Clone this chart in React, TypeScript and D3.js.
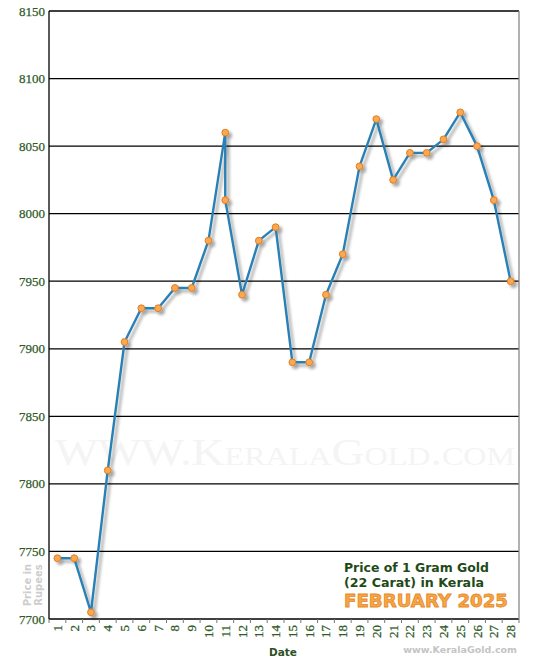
import * as d3 from 'd3';

// Day 11 carries two rates (morning and afternoon)
const days = [1, 2, 3, 4, 5, 6, 7, 8, 9, 10, 11, 11, 12, 13, 14, 15, 16, 17, 18, 19, 20, 21, 22, 23, 24, 25, 26, 27, 28];
const prices = [7745, 7745, 7705, 7810, 7905, 7930, 7930, 7945, 7945, 7980, 8060, 8010, 7940, 7980, 7990, 7890, 7890, 7940, 7970, 8035, 8070, 8025, 8045, 8045, 8055, 8075, 8050, 8010, 7950];
const dayLabels = d3.range(1, 29).map(String);
const yTicks = [7700, 7750, 7800, 7850, 7900, 7950, 8000, 8050, 8100, 8150];

const W = 550;
const H = 660;
const margin = { top: 11, right: 31, bottom: 41, left: 49 };

export default function App() {
  const x = d3.scaleBand<string>()
    .domain(dayLabels)
    .range([margin.left, W - margin.right])
    .padding(0);
  const y = d3.scaleLinear()
    .domain([7700, 8150])
    .range([H - margin.bottom, margin.top]);

  const points = days.map((d, i) => ({
    cx: (x(String(d)) || 0) + x.bandwidth() / 2,
    cy: y(prices[i]),
  }));

  const line = d3.line<{ cx: number; cy: number }>()
    .x(d => d.cx)
    .y(d => d.cy);

  const green = '#2f5a28';
  const x0 = margin.left;
  const x1 = W - margin.right;
  const yBottom = H - margin.bottom;

  return (
    <svg width={W} height={H} style={{ position: 'absolute', left: 0, top: 0, background: '#fff' }}>
      <defs>
        <filter id="shadow" x="-10%" y="-10%" width="130%" height="130%">
          <feGaussianBlur in="SourceAlpha" stdDeviation="1.6" />
          <feOffset dx="3" dy="3" result="blur" />
          <feComponentTransfer>
            <feFuncA type="linear" slope="0.35" />
          </feComponentTransfer>
          <feMerge>
            <feMergeNode />
            <feMergeNode in="SourceGraphic" />
          </feMerge>
        </filter>
      </defs>

      {/* watermark */}
      <text
        x={55}
        y={465}
        fontFamily="'Liberation Serif', serif"
        fontSize={37}
        fill="#f4f4f4"
        style={{ fontVariant: 'small-caps' }}
        textLength={460}
        lengthAdjust="spacingAndGlyphs"
      >
        WWW.KeralaGold.com
      </text>

      {/* gridlines */}
      {yTicks.map(t => (
        <line key={t} x1={x0} x2={x1} y1={y(t)} y2={y(t)} stroke="#000" strokeWidth={1.3} />
      ))}

      {/* y tick labels */}
      {yTicks.map(t => (
        <text
          key={'l' + t}
          x={45}
          y={y(t) + 4.5}
          textAnchor="end"
          fontFamily="'Liberation Serif', serif"
          fontSize={13}
          fill={green}
          stroke={green}
          strokeWidth={0.25}
        >
          {t}
        </text>
      ))}

      {/* axes frame */}
      <line x1={x0} x2={x0} y1={margin.top} y2={yBottom} stroke="#000" strokeWidth={1.3} />
      <line x1={x1} x2={x1} y1={margin.top} y2={yBottom} stroke="#888" strokeWidth={1.3} />

      {/* x ticks and labels */}
      {dayLabels.map((d, i) => {
        const bx = x(d) || 0;
        const cx = bx + x.bandwidth() / 2;
        return (
          <g key={d}>
            <line x1={bx + x.bandwidth()} x2={bx + x.bandwidth()} y1={yBottom} y2={yBottom + 4} stroke="#777" />
            {i === 0 && <line x1={bx} x2={bx} y1={yBottom} y2={yBottom + 4} stroke="#777" />}
            <text
              transform={`translate(${cx + 4.5},${yBottom + 6}) rotate(-90)`}
              textAnchor="end"
              fontFamily="'Liberation Serif', serif"
              fontSize={13}
              fill={green}
              stroke={green}
              strokeWidth={0.25}
            >
              {d}
            </text>
          </g>
        );
      })}

      {/* price line */}
      <g filter="url(#shadow)">
        <path d={line(points) || ''} fill="none" stroke="#2a80b4" strokeWidth={2.4} strokeLinejoin="round" />
        {points.map((p, i) => (
          <circle key={i} cx={p.cx} cy={p.cy} r={3.4} fill="#f9a852" stroke="#e27d22" strokeWidth={1} />
        ))}
      </g>

      {/* axis titles */}
      <text x={283} y={656} textAnchor="middle" fontFamily="'DejaVu Sans', Verdana, sans-serif" fontWeight="bold" fontSize={10.5} fill="#2d4f24">
        Date
      </text>
      <g transform="translate(31,585) rotate(-90)" fontFamily="'DejaVu Sans', Verdana, sans-serif" fontWeight="bold" fontSize={10} fill="#cdcdcd" textAnchor="middle">
        <text x={0} y={0}>Price in</text>
        <text x={0} y={11}>Rupees</text>
      </g>

      {/* title block */}
      <g fontFamily="'DejaVu Sans', Verdana, sans-serif" fontWeight="bold">
        <text x={344} y={572} fontSize={12} fill="#1f4a18" textLength={145} lengthAdjust="spacingAndGlyphs">Price of 1 Gram Gold</text>
        <text x={344} y={587} fontSize={12} fill="#1f4a18" textLength={140} lengthAdjust="spacingAndGlyphs">(22 Carat) in Kerala</text>
        <text x={344} y={607} fontSize={17.5} fill="#f7a545" stroke="#e58a2a" strokeWidth={0.8} textLength={164} lengthAdjust="spacingAndGlyphs">
          FEBRUARY 2025
        </text>
        <text x={517} y={653} fontSize={9.5} fill="#c4c4c4" textAnchor="end">www.KeralaGold.com</text>
      </g>
    </svg>
  );
}
